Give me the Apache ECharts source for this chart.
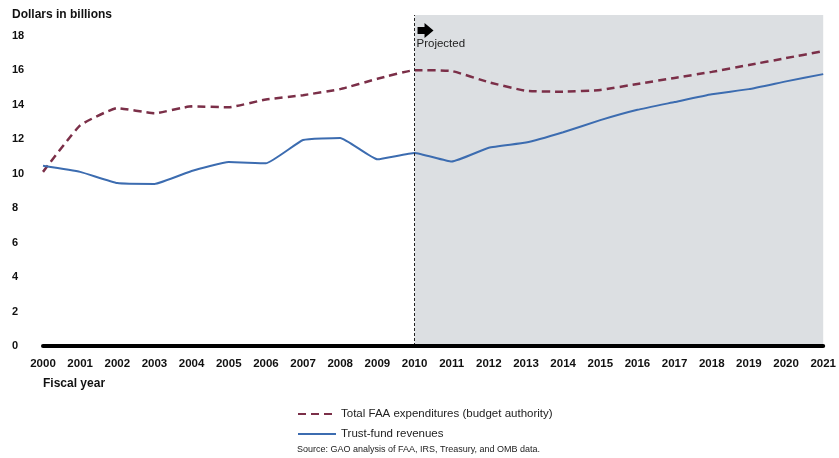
<!DOCTYPE html>
<html>
<head>
<meta charset="utf-8">
<script src="https://cdn.jsdelivr.net/npm/echarts@6/dist/echarts.min.js"></script>
<style>
  html, body { margin: 0; padding: 0; background: #fff; }
  #chart { width: 839px; height: 458px; }
</style>
</head>
<body>
<div id="chart"></div>
<script>
var years = ['2000', '2001', '2002', '2003', '2004', '2005', '2006', '2007', '2008', '2009', '2010',
    '2011', '2012', '2013', '2014', '2015', '2016', '2017', '2018', '2019', '2020', '2021'];
var expenditures = [10.1, 12.8, 13.8, 13.5, 13.9, 13.85, 14.3, 14.55, 14.9, 15.5, 16.0,
    15.95, 15.3, 14.8, 14.75, 14.85, 15.2, 15.55, 15.9, 16.3, 16.7, 17.1];
var revenues = [10.45, 10.1, 9.45, 9.4, 10.15, 10.67, 10.6, 11.95, 12.07, 10.83, 11.2,
    10.7, 11.5, 11.8, 12.4, 13.1, 13.7, 14.15, 14.6, 14.9, 15.35, 15.77];
var projectedFrom = '2010';
var projectedTo = '2021';

var labelFont = 'Liberation Sans';
var chartobj = echarts.init(document.getElementById('chart'));

var option = {
    animation: false,
    backgroundColor: '#ffffff',
    grid: { left: 43, right: 13, top: 15, bottom: 112, containLabel: false },
    legend: {
        orient: 'vertical',
        left: 292,
        top: 403,
        itemWidth: 38,
        itemHeight: 10,
        itemGap: 8,
        textStyle: { fontFamily: labelFont, fontSize: 11.5, color: '#222' },
        itemStyle: { opacity: 0 },
        data: ['Total FAA expenditures (budget authority)', 'Trust-fund revenues']
    },
    xAxis: {
        type: 'category',
        data: years,
        boundaryGap: false,
        z: 10,
        axisLine: { show: true, lineStyle: { color: '#000', width: 4 } },
        axisTick: { show: false },
        axisLabel: { color: '#111', fontFamily: labelFont, fontWeight: 'bold', fontSize: 11.5, margin: 12 },
        splitLine: { show: false }
    },
    yAxis: {
        type: 'value',
        min: 0,
        max: 19.2,
        interval: 2,
        axisLine: { show: false },
        axisTick: { show: false },
        splitLine: { show: false },
        axisLabel: {
            color: '#111', fontFamily: labelFont, fontWeight: 'bold', fontSize: 11,
            align: 'left', margin: 31,
            formatter: function (v) { return (v % 2 === 0) ? String(v) : ''; }
        }
    },
    series: [
        {
            name: 'Total FAA expenditures (budget authority)',
            type: 'line',
            data: expenditures,
            symbol: 'none',
            smooth: 0.12,
            z: 4,
            lineStyle: { color: '#7b2f48', width: 2.5, type: [8, 5] },
            itemStyle: { color: '#7b2f48' },
            markArea: {
                silent: true,
                itemStyle: { color: '#dcdfe2' },
                data: [[{ xAxis: projectedFrom }, { xAxis: projectedTo }]]
            }
        },
        {
            name: 'Trust-fund revenues',
            type: 'line',
            data: revenues,
            symbol: 'none',
            smooth: 0.12,
            z: 4,
            lineStyle: { color: '#3c6cb0', width: 2 },
            itemStyle: { color: '#3c6cb0' },
            markLine: {
                silent: true,
                symbol: 'none',
                label: { show: false },
                lineStyle: { color: '#222', width: 1, type: [3, 2] },
                data: [{ xAxis: projectedFrom }]
            }
        }
    ]
};
chartobj.setOption(option);

// annotations placed from the axis scale
var px = chartobj.convertToPixel({ xAxisIndex: 0 }, projectedFrom);
chartobj.setOption({
    graphic: [
        {
            type: 'text', left: 12, top: 9, z: 100,
            style: { text: 'Dollars in billions', font: 'bold 12px ' + labelFont, fill: '#111' }
        },
        {
            type: 'text', left: 43, top: 378, z: 100,
            style: { text: 'Fiscal year', font: 'bold 12px ' + labelFont, fill: '#111' }
        },
        {
            type: 'polygon', z: 100,
            shape: { points: [[px + 3, 27], [px + 10, 27], [px + 10, 23], [px + 19, 30.5], [px + 10, 38], [px + 10, 34], [px + 3, 34]] },
            style: { fill: '#000' }
        },
        {
            type: 'text', left: px + 2, top: 38, z: 100,
            style: { text: 'Projected', font: '11.5px ' + labelFont, fill: '#222' }
        },
        {
            type: 'text', left: 297, top: 445, z: 100,
            style: { text: 'Source: GAO analysis of FAA, IRS, Treasury, and OMB data.', font: '9px ' + labelFont, fill: '#222' }
        }
    ]
});
</script>
</body>
</html>
